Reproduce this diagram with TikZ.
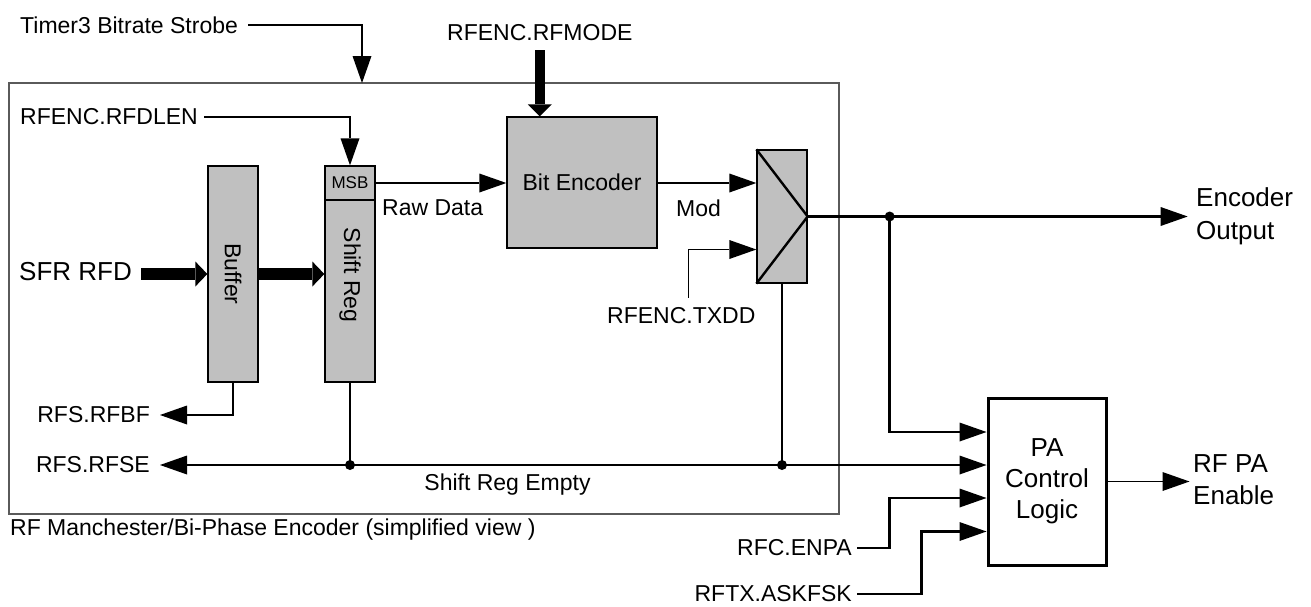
\documentclass[tikz,border=0pt]{standalone}
\usepackage{fontspec}
\setmainfont{Liberation Sans}
\usetikzlibrary{arrows.meta,calc}
\definecolor{outergray}{RGB}{90,90,90}
\definecolor{boxgray}{RGB}{192,192,192}
\begin{document}
\begin{tikzpicture}[x=1pt,y=-1pt,
  every node/.style={inner sep=0pt, font=\fontsize{23}{27}\selectfont},
  blk/.style={draw, line width=1.3pt, fill=boxgray},
  thinln/.style={line width=1.4pt},
  thickln/.style={line width=2.4pt},
  arr/.style={-{Triangle[length=27pt,width=19pt,line width=0pt]}},
  bus/.style={line width=12pt,-{Triangle[length=12pt,width=25pt,line width=0pt]}},
  vbus/.style={line width=10pt,-{Triangle[length=12pt,width=24pt,line width=0pt]}},
  dot/.style={circle, fill, minimum size=10pt}]

\useasboundingbox (0,0) rectangle (1311,606);

% outer frame
\node[draw=outergray, line width=1.2pt, minimum width=830pt, minimum height=431pt] (outer) at (424,298.5) {};

% blocks
\node[blk, minimum width=50pt, minimum height=216pt] (buffer) at (233,274) {};
\node[rotate=-90] (buflab) at (buffer.center) {Buffer};
\node[blk, minimum width=50pt, minimum height=216pt] (shiftreg) at (350,274) {};
\node[rotate=-90] (srlab) at (350,275) {Shift Reg};
\node[blk, minimum width=50pt, minimum height=34pt, font=\fontsize{17}{20}\selectfont] (msb) at (350,183) {MSB};
\node[blk, minimum width=150pt, minimum height=131pt] (bitenc) at (582,182.5) {Bit Encoder};
\node[blk, minimum width=50pt, minimum height=133pt] (mux) at (782,216.5) {};
\draw[thickln] (mux.north west) -- (mux.east) -- (mux.south west);
\node[draw, line width=3pt, minimum width=118pt, minimum height=167pt, align=center, font=\fontsize{26}{31}\selectfont] (pa) at (1047,481.5) {PA\\Control\\Logic};

% labels
\node[anchor=west] (timer) at (20,25) {Timer3 Bitrate Strobe};
\node[anchor=west] (rfdlen) at (20,117) {RFENC.RFDLEN};
\node[anchor=west, font=\fontsize{26}{32}\selectfont] (sfr) at (19,272) {SFR RFD};
\node[anchor=east] (rfbf) at (150,415) {RFS.RFBF};
\node[anchor=east] (rfse) at (150,465) {RFS.RFSE};
\node[anchor=base west] (rfmode) at (447,40) {RFENC.RFMODE};
\node[anchor=base west] (raw) at (382,215) {Raw Data};
\node[anchor=base west] (mod) at (676,216) {Mod};
\node[anchor=base west] (txdd) at (607,323) {RFENC.TXDD};
\node[anchor=base] (sre) at (507.5,490) {Shift Reg Empty};
\node[anchor=base west] (title) at (10,535) {RF Manchester/Bi-Phase Encoder (simplified view )};
\node[anchor=west, align=left, font=\fontsize{26}{33}\selectfont] (encout) at (1196,216.5) {Encoder\\Output};
\node[anchor=west, align=left, font=\fontsize{26}{32}\selectfont] (rfpa) at (1193,480) {RF PA\\Enable};
\node[anchor=east] (enpa) at (852,548) {RFC.ENPA};
\node[anchor=east] (ask) at (852,594) {RFTX.ASKFSK};

% helper coordinates
\coordinate (tin) at (362,83);
\coordinate (p1) at ([yshift=49.5pt]pa.west);
\coordinate (p2) at ([yshift=16.5pt]pa.west);
\coordinate (p3) at ([yshift=-16.5pt]pa.west);
\coordinate (p4) at ([yshift=-50pt]pa.west);
\coordinate (m1) at ([yshift=33.5pt]mux.west);
\coordinate (m2) at ([yshift=-33pt]mux.west);
\coordinate (d1) at (shiftreg.south |- p2);
\coordinate (d2) at (mux.south |- p2);
\coordinate (d3) at ([xshift=82pt]mux.east);
\coordinate (eo) at ([xshift=380pt]mux.east);
\coordinate (po) at ([xshift=82pt]pa.east);
\coordinate (sfrs) at ([xshift=9pt]sfr.east);
\coordinate (rmS) at ([yshift=-10pt]rfmode.south);
\coordinate (txN) at ([xshift=7pt,yshift=9pt]txdd.north);
\coordinate (enS) at ([xshift=5pt]enpa.east);
\coordinate (askS) at ([xshift=5pt]ask.east);
\coordinate (askV) at ([xshift=-65pt]p4);

% connectors
\draw[thinln,arr] ([xshift=10pt]timer.east) -| (tin);
\draw[thinln,arr] ([xshift=6pt]rfdlen.east) -| (msb.north);
\draw[bus] (sfrs |- buffer.west) -- (buffer.west);
\draw[bus] (buffer.east) -- (shiftreg.west);
\draw[thinln,arr] (buffer.south) |- ([xshift=10pt]rfbf.east);
\draw[thinln] (shiftreg.south) -- (d1);
\draw[thinln] (mux.south) -- (d2);
\draw[thinln,arr] (d2) -- ([xshift=10pt]rfse.east);
\draw[thickln,arr] (d2) -- (p2);
\draw[vbus] (rmS) -- (rmS |- bitenc.north);
\draw[thinln,arr] (msb.east) -- (msb.east -| bitenc.west);
\draw[thinln,arr] (bitenc.east |- m1) -- (m1);
\draw[thinln,arr] (txN) |- (m2);
\draw[thickln,arr] (mux.east) -- (eo);
\draw[thickln,arr] (d3) |- (p1);
\draw[thickln,arr] (enS) -| (d3 |- p3) -- (p3);
\draw[thickln,arr] (askS) -| (askV) -- (p4);
\draw[line width=1.8pt,arr] (pa.east) -- (po);

\node[dot] (dot1) at (d1) {};
\node[dot] (dot2) at (d2) {};
\node[dot] (dot3) at (d3) {};
\end{tikzpicture}
\end{document}
